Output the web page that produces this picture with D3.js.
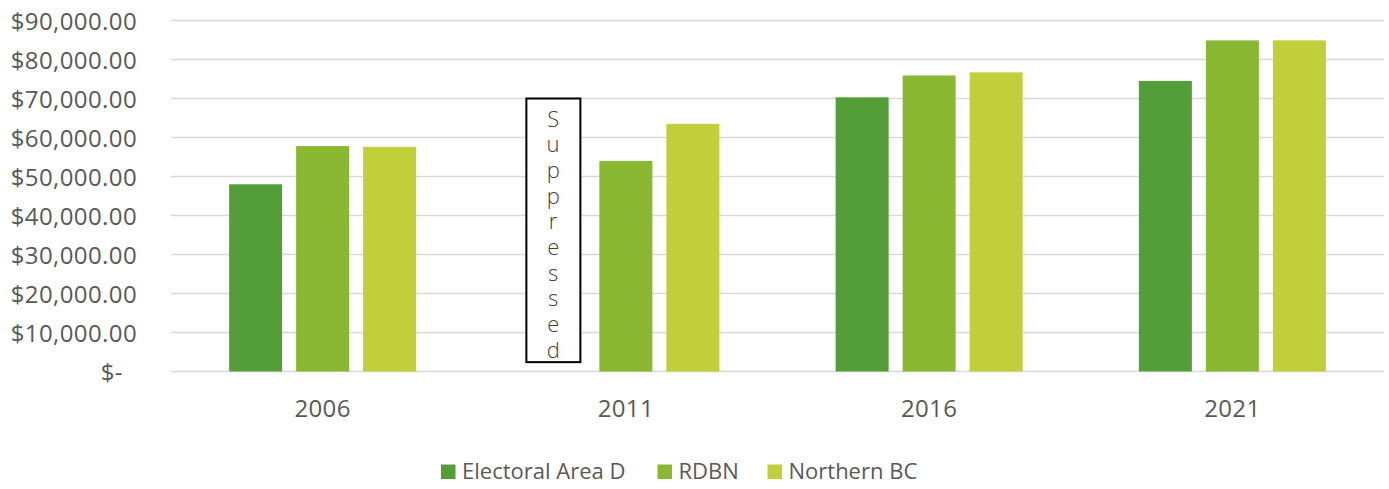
<!DOCTYPE html>
<html>
<head>
<meta charset="utf-8">
<script src="https://cdn.jsdelivr.net/npm/d3@7"></script>
<style>
  html, body { margin: 0; padding: 0; background: #fff; }
  svg { display: block; font-family: "Open Sans", sans-serif; }
  svg text { font-family: "Open Sans", sans-serif; }
</style>
</head>
<body>
<svg id="chart" width="1389" height="489"></svg>
<script>
// ---- data ----
const years = ["2006", "2011", "2016", "2021"];
const series = ["Electoral Area D", "RDBN", "Northern BC"];
const electoralAreaD = [48000, null, 70300, 74500];   // 2011 suppressed
const rdbn           = [57800, 54000, 75900, 84900];
const northernBC     = [57600, 63500, 76700, 84900];
const yTicks = [0, 10000, 20000, 30000, 40000, 50000, 60000, 70000, 80000, 90000];
const colors = ["#549E39", "#8AB833", "#C0CF3A"];
// annotation for suppressed value (data units)
const suppressedYear = "2011";
const suppressedText = "Suppressed";
const suppressedTop = 70000, suppressedBottom = 2400;

const values = [electoralAreaD, rdbn, northernBC];

// ---- layout ----
const W = 1389, H = 489;
const margin = { left: 171, right: 5, top: 20.5, bottom: 117.5 };
const svg = d3.select("#chart");

const x0 = d3.scaleBand().domain(years).range([margin.left, W - margin.right]).paddingInner(0).paddingOuter(0);
const x1 = d3.scaleBand().domain(series).range([0, x0.bandwidth()]).paddingInner(14 / 67).paddingOuter(0.8675);
const y = d3.scaleLinear().domain([0, 90000]).range([H - margin.bottom, margin.top]);

const fmt = v => v === 0 ? "$-\u2007" : "$" + d3.format(",.2f")(v);

// gridlines
svg.append("g").selectAll("line").data(yTicks).join("line")
  .attr("x1", margin.left).attr("x2", W - margin.right)
  .attr("y1", d => y(d)).attr("y2", d => y(d))
  .attr("stroke", "#d9d9d9").attr("stroke-width", 1.5);

// y axis labels
const yAxis = d3.axisLeft(y).tickValues(yTicks).tickFormat(fmt).tickSize(0).tickPadding(0);
const gy = svg.append("g").attr("transform", `translate(${137},0)`).call(yAxis)
  .attr("font-family", null).attr("font-size", null);
gy.select(".domain").remove();
gy.selectAll("text")
  .attr("fill", "#595959").style("font-family", "'Open Sans', sans-serif")
  .style("font-size", "24px").style("letter-spacing", "0.4px")
  .attr("dy", "0.36em");

// bars
const flat = [];
years.forEach((yr, i) => series.forEach((s, j) => {
  if (values[j][i] != null) flat.push({ yr, s, j, v: values[j][i] });
}));
svg.append("g").selectAll("rect").data(flat).join("rect")
  .attr("x", d => x0(d.yr) + x1(d.s))
  .attr("width", x1.bandwidth())
  .attr("y", d => y(d.v))
  .attr("height", d => y(0) - y(d.v))
  .attr("fill", d => colors[d.j]);

// x axis labels
const xAxis = d3.axisBottom(x0).tickSize(0).tickPadding(0);
const gx = svg.append("g").attr("transform", `translate(0,${y(0)})`).call(xAxis)
  .attr("font-family", null).attr("font-size", null);
gx.select(".domain").remove();
gx.selectAll("text")
  .attr("fill", "#595959").style("font-family", "'Open Sans', sans-serif")
  .style("font-size", "24px").style("letter-spacing", "0.4px")
  .attr("y", 45).attr("dy", 0);

// suppressed annotation
const bx = x0(suppressedYear) + x1(series[0]) - 6;
const bw = x1.bandwidth() + 1;
const by = y(suppressedTop), bh = y(suppressedBottom) - y(suppressedTop);
const ann = svg.append("g");
ann.append("rect").attr("x", bx).attr("y", by).attr("width", bw).attr("height", bh)
  .attr("fill", "#fff").attr("stroke", "#000").attr("stroke-width", 2);
ann.append("text")
  .attr("x", bx + bw / 2).attr("y", by + 4)
  .style("writing-mode", "vertical-rl").style("text-orientation", "upright")
  .style("letter-spacing", "-4.3px")
  .attr("fill", "#404040")
  .style("font-size", "22px").style("font-weight", 300)
  .text(suppressedText);

// legend
const legendX = [441, 657.5, 767.5];
const lg = svg.append("g");
series.forEach((s, j) => {
  lg.append("rect").attr("x", legendX[j]).attr("y", 464.5).attr("width", 14.5).attr("height", 14.5).attr("fill", colors[j]);
  lg.append("text").attr("x", legendX[j] + 21).attr("y", 479)
    .attr("fill", "#595959").style("font-size", "22px").text(s);
});
</script>
</body>
</html>
